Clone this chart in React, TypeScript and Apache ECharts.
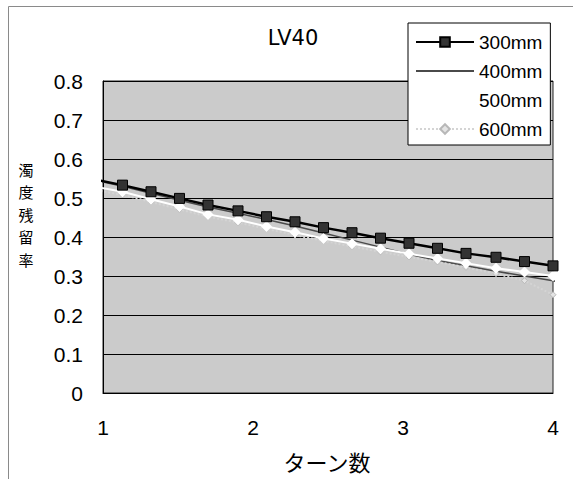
import React, { useEffect, useRef } from "react";
import * as echarts from "echarts";

// Turn counts (x); first and last points are the line ends drawn outside the markers.
const turns = [0.93, 1.13, 1.32, 1.51, 1.7, 1.9, 2.09, 2.28, 2.47, 2.66, 2.85, 3.04, 3.23, 3.42, 3.62, 3.81, 4.0, 4.06];

const values300 = [0.549, 0.533, 0.516, 0.499, 0.482, 0.467, 0.452, 0.439, 0.424, 0.411, 0.397, 0.384, 0.371, 0.358, 0.348, 0.337, 0.326, 0.322];
const values400 = [0.547, 0.53, 0.512, 0.494, 0.477, 0.461, 0.445, 0.428, 0.41, 0.392, 0.374, 0.356, 0.34, 0.326, 0.312, 0.3, 0.288, 0.283];
const values500 = [0.53, 0.516, 0.497, 0.478, 0.458, 0.444, 0.427, 0.412, 0.396, 0.383, 0.37, 0.357, 0.345, 0.333, 0.32, 0.31, 0.3, null];
const values600 = [0.522, 0.508, 0.49, 0.471, 0.452, 0.437, 0.421, 0.405, 0.39, 0.376, 0.362, 0.349, 0.336, 0.322, 0.306, 0.288, 0.252, 0.24];

const seriesNames = ["300mm", "400mm", "500mm", "600mm"];
const chartTitle = "LV40";
const xTitle = "ターン数";
const yTitle = "濁度残留率";

function toData(vals: (number | null)[]) {
  const out: any[] = [];
  vals.forEach((v, i) => {
    if (v == null) return;
    const item: any = { value: [turns[i], v] };
    if (i === 0 || i === turns.length - 1) item.symbol = "none";
    out.push(item);
  });
  return out;
}

export default function App() {
  const ref = useRef<HTMLDivElement>(null);
  useEffect(() => {
    if (!ref.current) return;
    const chart = echarts.init(ref.current, null, { renderer: "svg" });
    const numFont = "'Liberation Sans', Arial, sans-serif";
    const cjkFont = "'Noto Sans CJK JP', sans-serif";
    chart.setOption({
      animation: false,
      backgroundColor: "#ffffff",
      grid: {
        left: 103,
        right: 20,
        top: 81,
        bottom: 86,
        show: true,
        backgroundColor: "#cbcbcb",
        borderColor: "#222",
        borderWidth: 1,
      },
      legend: {
        orient: "vertical",
        left: 408,
        top: 23,
        itemWidth: 58,
        itemHeight: 12,
        itemGap: 9,
        padding: [9, 8, 6, 7],
        backgroundColor: "#ffffff",
        borderColor: "#000",
        borderWidth: 1,
        borderRadius: 0,
        textStyle: { fontSize: 19, lineHeight: 20, color: "#000", fontFamily: numFont },
        data: [
          { name: seriesNames[0] },
          { name: seriesNames[1], itemStyle: { opacity: 0 } },
          { name: seriesNames[2] },
          { name: seriesNames[3] },
        ],
      },
      xAxis: {
        type: "value",
        min: 1,
        max: 4,
        interval: 1,
        axisLine: { show: true, lineStyle: { color: "#000", width: 1 } },
        axisTick: { show: false },
        splitLine: { show: false },
        axisLabel: { fontSize: 21, color: "#000", fontFamily: numFont, margin: 24 },
      },
      yAxis: {
        type: "value",
        min: 0,
        max: 0.8,
        interval: 0.1,
        axisLine: { show: true, lineStyle: { color: "#000", width: 1 } },
        axisTick: { show: false },
        splitLine: { show: true, lineStyle: { color: "#000", width: 1 } },
        axisLabel: { fontSize: 21, color: "#000", fontFamily: numFont, margin: 20 },
      },
      series: [
        {
          name: seriesNames[0],
          type: "line",
          data: toData(values300),
          clip: false,
          z: 5,
          symbol: "rect",
          symbolSize: 10,
          color: "#333333",
          lineStyle: { color: "#000", width: 2.5 },
          itemStyle: { color: "#333333", borderColor: "#000", borderWidth: 1 },
        },
        {
          name: seriesNames[1],
          type: "line",
          data: toData(values400),
          clip: false,
          z: 2,
          symbol: "none",
          color: "#4a4a4a",
          lineStyle: { color: "#4a4a4a", width: 1.5 },
        },
        {
          name: seriesNames[2],
          type: "line",
          data: toData(values500),
          clip: false,
          z: 3,
          symbol: "diamond",
          symbolSize: 11,
          color: "#ffffff",
          lineStyle: { color: "#ffffff", width: 2 },
          itemStyle: { color: "#ffffff", borderColor: "#ffffff", borderWidth: 0 },
        },
        {
          name: seriesNames[3],
          type: "line",
          data: toData(values600),
          clip: false,
          z: 2,
          symbol: "diamond",
          symbolSize: 6,
          color: "#b8b8b8",
          lineStyle: { color: "#d4d4d4", width: 2, type: "dotted" },
          itemStyle: { color: "#e4e4e4", borderColor: "#b8b8b8", borderWidth: 1 },
        },
      ],
      graphic: [
        {
          type: "rect",
          z: -10,
          silent: true,
          shape: { x: 8.5, y: 6.5, width: 700, height: 700 },
          style: { fill: "none", stroke: "#8a8a8a", lineWidth: 1 },
        },
        {
          type: "text",
          x: 293,
          y: 38,
          style: {
            text: chartTitle,
            fontSize: 21,
            fontFamily: "'DejaVu Sans', sans-serif",
            fill: "#000",
            textAlign: "center",
            textVerticalAlign: "middle",
          },
        },
        {
          type: "text",
          x: 327,
          y: 461,
          style: {
            text: xTitle,
            fontSize: 22,
            fontFamily: cjkFont,
            fill: "#000",
            textAlign: "center",
            textVerticalAlign: "middle",
          },
        },
        {
          type: "text",
          x: 26,
          y: 214,
          style: {
            text: yTitle.split("").join("\n"),
            fontSize: 15,
            lineHeight: 22.5,
            fontFamily: cjkFont,
            fill: "#000",
            textAlign: "center",
            textVerticalAlign: "middle",
          },
        },
      ],
    });
    return () => chart.dispose();
  }, []);
  return (
    <div
      ref={ref}
      style={{ position: "absolute", left: 0, top: 0, width: 573, height: 479 }}
    />
  );
}
